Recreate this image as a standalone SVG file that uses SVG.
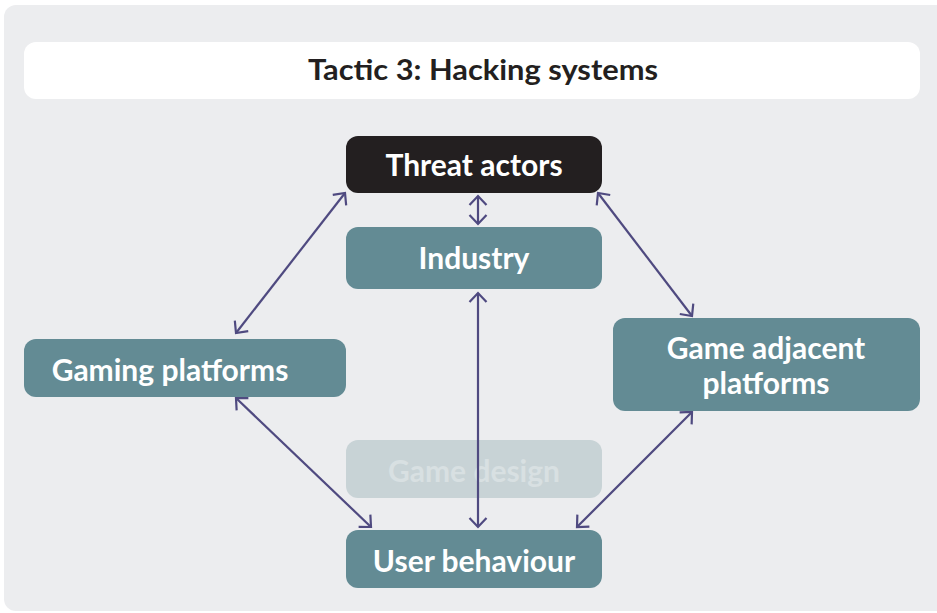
<svg xmlns="http://www.w3.org/2000/svg" width="937" height="613" viewBox="0 0 937 613">
<defs>
<style>
.node{fill:#638B94}
.lbl{font-family:Lato,"Open Sans","DejaVu Sans",sans-serif;font-weight:bold;font-size:30px;fill:#FFFFFF;text-anchor:middle}
.con{stroke:#4F4A80;stroke-width:2.2;fill:none;marker-start:url(#ah);marker-end:url(#ah)}
</style>
<marker id="ah" viewBox="0 0 20 20" refX="12" refY="10" markerWidth="20" markerHeight="20" markerUnits="userSpaceOnUse" orient="auto-start-reverse">
<path d="M3,1.5 L12,10 L3,18.5" fill="none" stroke="#4F4A80" stroke-width="2.2"/>
</marker>
</defs>
<rect x="0" y="0" width="937" height="613" fill="#FFFFFF"/>
<rect x="4" y="5" width="945" height="606" rx="12" fill="#ECEDEF"/>
<g id="title">
<rect x="24" y="42" width="896" height="57" rx="12" fill="#FFFFFF"/>
<text x="483" y="80" font-family="Lato,'Open Sans',sans-serif" font-weight="bold" font-size="29" fill="#231F20" text-anchor="middle" textLength="350" lengthAdjust="spacingAndGlyphs">Tactic 3: Hacking systems</text>
</g>
<g id="game-design">
<rect x="346" y="440" width="256" height="58" rx="12" fill="#C8D3D6"/>
<text class="lbl" x="474" y="482" style="fill:#D8E0E2">Game design</text>
</g>
<g id="connectors">
<line class="con" x1="478" y1="196" x2="478" y2="224"/>
<line class="con" x1="478" y1="293" x2="478" y2="527"/>
<line class="con" x1="345" y1="193" x2="236" y2="333"/>
<line class="con" x1="598" y1="193" x2="692" y2="316"/>
<line class="con" x1="236" y1="398" x2="371" y2="527"/>
<line class="con" x1="692" y1="412" x2="577" y2="527"/>
</g>
<g id="threat-actors">
<rect x="346" y="136" width="256" height="57" rx="12" fill="#231F20"/>
<text class="lbl" x="474" y="176">Threat actors</text>
</g>
<g id="industry">
<rect class="node" x="346" y="227" width="256" height="62" rx="12"/>
<text class="lbl" x="474" y="269">Industry</text>
</g>
<g id="gaming-platforms">
<rect class="node" x="24" y="339" width="322" height="58" rx="12"/>
<text class="lbl" x="170" y="381">Gaming platforms</text>
</g>
<g id="game-adjacent-platforms">
<rect class="node" x="613" y="318" width="307" height="93" rx="12"/>
<text class="lbl" x="766" y="359">Game adjacent</text>
<text class="lbl" x="766" y="394">platforms</text>
</g>
<g id="user-behaviour">
<rect class="node" x="346" y="530" width="256" height="58" rx="12"/>
<text class="lbl" x="474" y="572">User behaviour</text>
</g>
</svg>
